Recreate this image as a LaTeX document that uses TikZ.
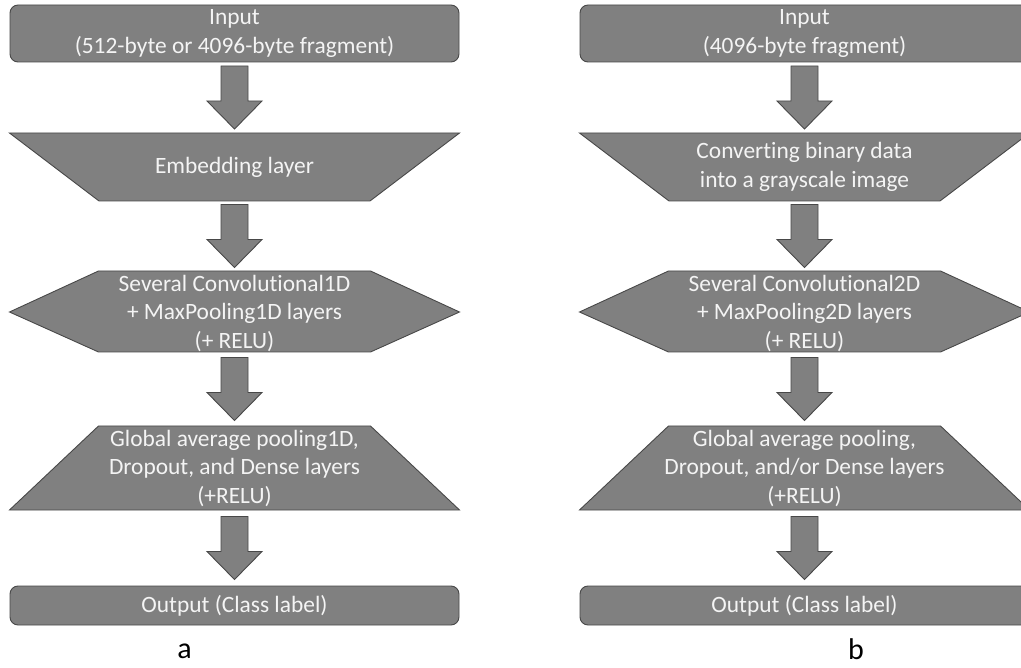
\documentclass[tikz,border=0pt]{standalone}
\usepackage{fontspec}
\setmainfont{Carlito}[Ligatures=NoCommon]
\usetikzlibrary{calc}

\definecolor{boxfill}{RGB}{128,128,128}
\definecolor{boxline}{RGB}{72,72,72}
\definecolor{boxtext}{RGB}{244,244,244}

\tikzset{
  stage/.style={fill=boxfill, draw=boxline, line width=0.9pt, line join=miter},
  roundstage/.style={stage, rounded corners=8pt},
  stagetext/.style={text=boxtext, font=\fontsize{23.4}{28.5}\selectfont,
                    align=center, inner sep=0pt},
  arrowbody/.style={fill=boxfill, draw=boxline, line width=0.9pt, line join=miter},
  panel/.style={font=\fontsize{30}{36}\selectfont, text=black, inner sep=0pt}
}

% block arrow centred between two named points (top of arrow at #1 side)
\newcommand{\flowarrow}[2]{%
  \path ($(#1)!0.5!(#2)$) coordinate (mid);
  \draw[arrowbody]
    ($(mid)+(-13.5,-31.5)$) -- ($(mid)+(13.5,-31.5)$) --
    ($(mid)+(13.5,3.5)$) -- ($(mid)+(27.5,3.5)$) --
    ($(mid)+(0,31.5)$) --
    ($(mid)+(-27.5,3.5)$) -- ($(mid)+(-13.5,3.5)$) -- cycle;}

\begin{document}
\begin{tikzpicture}[x=1pt, y=-1pt]
\useasboundingbox (0,0) rectangle (1021,668);
\clip (0,0) rectangle (1021,668);

% ---------------- column a: 1D network ----------------
\begin{scope}[shift={(234.5,0)}]
  \draw[roundstage] (-224.5,5) rectangle (224.5,62);
  \node[stagetext] (ain) at (0,33.5) {Input\\(512-byte or 4096-byte fragment)};
  \coordinate (ain-b) at (0,62);

  \draw[stage] (-225,133) -- (225,133) -- (135.5,201) -- (-135.5,201) -- cycle;
  \node[stagetext] (aemb) at (0,167) {Embedding layer};
  \coordinate (aemb-t) at (0,133);
  \coordinate (aemb-b) at (0,201);

  \draw[stage] (-136,271) -- (136,271) -- (225,312) -- (136,352) --
               (-136,352) -- (-225,312) -- cycle;
  \node[stagetext] (aconv) at (0,313)
    {Several Convolutional1D\\+ MaxPooling1D layers\\(+ RELU)};
  \coordinate (aconv-t) at (0,271);
  \coordinate (aconv-b) at (0,352);

  \draw[stage] (-136,426) -- (136,426) -- (225,510) -- (-225,510) -- cycle;
  \node[stagetext] (agap) at (0,468)
    {Global average pooling1D,\\Dropout, and Dense layers\\(+RELU)};
  \coordinate (agap-t) at (0,426);
  \coordinate (agap-b) at (0,510);

  \draw[roundstage] (-224.5,586) rectangle (224.5,625);
  \node[stagetext] (aout) at (0,605.5) {Output (Class label)};
  \coordinate (aout-t) at (0,586);

  \node[panel] (alabel) at (-50,651) {a};
\end{scope}

\flowarrow{ain-b}{aemb-t}
\flowarrow{aemb-b}{aconv-t}
\flowarrow{aconv-b}{agap-t}
\flowarrow{agap-b}{aout-t}

% ---------------- column b: 2D network ----------------
\begin{scope}[shift={(804.5,0)}]
  \draw[roundstage] (-224.5,5) rectangle (224.5,62);
  \node[stagetext] (bin) at (0,33.5) {Input\\(4096-byte fragment)};
  \coordinate (bin-b) at (0,62);

  \draw[stage] (-225,133) -- (225,133) -- (135.5,201) -- (-135.5,201) -- cycle;
  \node[stagetext] (bimg) at (0,167)
    {Converting binary data\\into a grayscale image};
  \coordinate (bimg-t) at (0,133);
  \coordinate (bimg-b) at (0,201);

  \draw[stage] (-136,271) -- (136,271) -- (225,312) -- (136,352) --
               (-136,352) -- (-225,312) -- cycle;
  \node[stagetext] (bconv) at (0,313)
    {Several Convolutional2D\\+ MaxPooling2D layers\\(+ RELU)};
  \coordinate (bconv-t) at (0,271);
  \coordinate (bconv-b) at (0,352);

  \draw[stage] (-136,426) -- (136,426) -- (225,510) -- (-225,510) -- cycle;
  \node[stagetext] (bgap) at (0,468)
    {Global average pooling,\\Dropout, and/or Dense layers\\(+RELU)};
  \coordinate (bgap-t) at (0,426);
  \coordinate (bgap-b) at (0,510);

  \draw[roundstage] (-224.5,586) rectangle (224.5,625);
  \node[stagetext] (bout) at (0,605.5) {Output (Class label)};
  \coordinate (bout-t) at (0,586);

  \node[panel] (blabel) at (51.5,649) {b};
\end{scope}

\flowarrow{bin-b}{bimg-t}
\flowarrow{bimg-b}{bconv-t}
\flowarrow{bconv-b}{bgap-t}
\flowarrow{bgap-b}{bout-t}
\end{tikzpicture}
\end{document}
